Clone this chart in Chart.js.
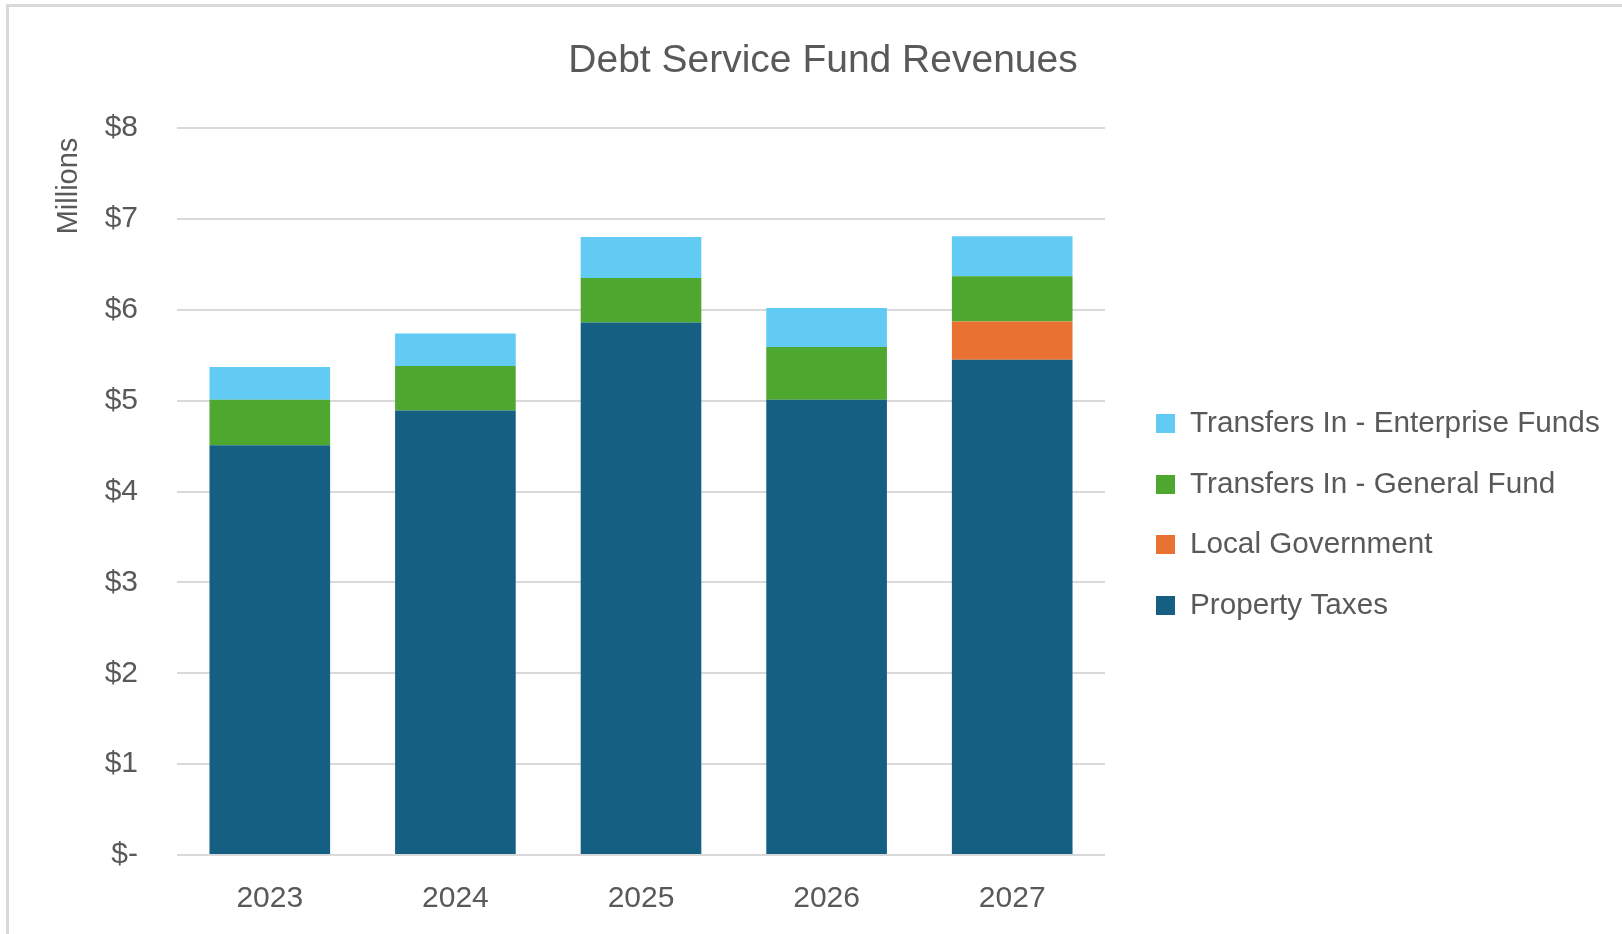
<!DOCTYPE html>
<html>
<head>
<meta charset="utf-8">
<title>Debt Service Fund Revenues</title>
<script src="https://cdn.jsdelivr.net/npm/chart.js@4.4.1/dist/chart.umd.min.js"></script>
<style>
  html, body { margin: 0; padding: 0; background: #fff; }
  #wrap { position: relative; width: 1622px; height: 934px; overflow: hidden; }
  #frame {
    position: absolute; left: 6px; top: 4px; right: -10px; bottom: -10px;
    border-left: 3px solid #d9d9d9; border-top: 3px solid #d9d9d9;
  }
  canvas { position: absolute; left: 0; top: 0; }
</style>
</head>
<body>
<div id="wrap">
  <div id="frame"></div>
  <canvas id="grafik" width="1622" height="934"></canvas>
</div>
<script>
// fiscal years and revenue sources, in $ millions
const years = ['2023', '2024', '2025', '2026', '2027'];
const propertyTaxes = [4.51, 4.89, 5.86, 5.01, 5.45];
const localGovernment = [0, 0, 0, 0, 0.42];
const generalFund = [0.50, 0.49, 0.49, 0.58, 0.50];
const enterpriseFunds = [0.36, 0.36, 0.45, 0.43, 0.44];
const yTicks = ['$-', '$1', '$2', '$3', '$4', '$5', '$6', '$7', '$8'];

const grey = '#595959';
const font = '"Liberation Sans", Arial, sans-serif';

function bar(label, data, color) {
  return {
    label: label,
    data: data,
    backgroundColor: color,
    borderWidth: 0,
    barPercentage: 0.65,
    categoryPercentage: 1.0
  };
}

// title, "Millions" unit label and the legend are painted by hand
const extras = {
  id: 'extras',
  afterDraw(chart) {
    const ctx = chart.ctx;
    ctx.save();
    ctx.fillStyle = grey;
    ctx.textBaseline = 'middle';

    ctx.font = '39px ' + font;
    ctx.textAlign = 'center';
    ctx.fillText('Debt Service Fund Revenues', 823, 61);

    ctx.save();
    ctx.translate(68, 186);
    ctx.rotate(-Math.PI / 2);
    ctx.font = '29px ' + font;
    ctx.fillText('Millions', 0, 1);
    ctx.restore();

    // legend goes top-down in reverse stacking order
    const sets = chart.data.datasets.slice().reverse();
    const rowY = [423, 484, 544, 605];
    ctx.textAlign = 'left';
    ctx.font = '29.7px ' + font;
    sets.forEach((ds, i) => {
      ctx.fillStyle = ds.backgroundColor;
      ctx.fillRect(1156, rowY[i] - 9, 19, 19);
      ctx.fillStyle = grey;
      ctx.fillText(ds.label, 1190, rowY[i] + 1);
    });
    ctx.restore();
  }
};

const myChart = new Chart(document.getElementById('grafik'), {
  type: 'bar',
  data: {
    labels: years,
    datasets: [
      bar('Property Taxes', propertyTaxes, '#156082'),
      bar('Local Government', localGovernment, '#E97132'),
      bar('Transfers In - General Fund', generalFund, '#4EA72E'),
      bar('Transfers In - Enterprise Funds', enterpriseFunds, '#61CBF3')
    ]
  },
  options: {
    responsive: false,
    animation: false,
    layout: { padding: { top: 128, right: 517, left: 0, bottom: 0 } },
    plugins: {
      legend: { display: false },
      title: { display: false },
      tooltip: { enabled: false }
    },
    scales: {
      x: {
        stacked: true,
        grid: { display: false, drawTicks: false },
        border: { display: false },
        ticks: { color: grey, font: { family: font, size: 30 }, padding: 26 },
        afterFit(scale) { scale.height = 79; }
      },
      y: {
        stacked: true,
        min: 0,
        max: 8,
        grid: { color: '#d9d9d9', lineWidth: 2, drawTicks: false },
        border: { display: false },
        ticks: {
          stepSize: 1,
          color: grey,
          padding: 39,
          font: { family: font, size: 30 },
          callback: (v) => yTicks[v]
        },
        afterFit(scale) { scale.width = 177; }
      }
    }
  },
  plugins: [extras]
});
</script>
</body>
</html>
